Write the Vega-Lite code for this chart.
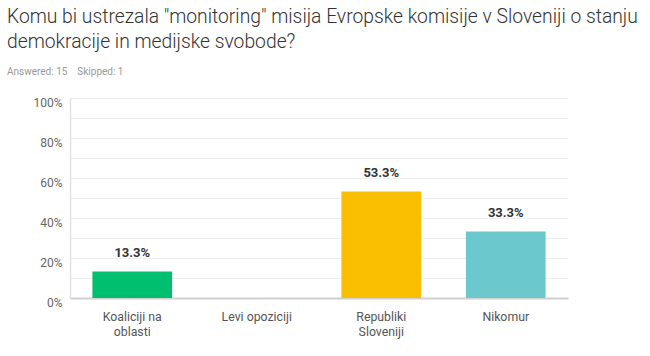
{
  "$schema": "https://vega.github.io/schema/vega-lite/v6.json",
  "width": 498,
  "height": 200,
  "autosize": {"type": "none"},
  "padding": {"left": 70, "top": 98, "right": 82, "bottom": 58},
  "background": "white",
  "title": {
    "text": ["Komu bi ustrezala \"monitoring\" misija Evropske komisije v Sloveniji o stanju", "demokracije in medijske svobode?"],
    "subtitle": "Answered: 15\u00a0\u00a0\u00a0\u00a0Skipped: 1",
    "anchor": "start",
    "frame": "group",
    "dx": -63,
    "offset": 19,
    "font": "Roboto",
    "fontSize": 19.3,
    "fontWeight": 300,
    "color": "#333333",
    "lineHeight": 25,
    "subtitleFont": "Roboto",
    "subtitleFontSize": 10,
    "subtitleColor": "#999999",
    "subtitlePadding": 15
  },
  "data": {
    "values": [
      {"option": "Koaliciji na oblasti", "pct": 0.133, "label": "13.3%"},
      {"option": "Levi opoziciji", "pct": 0.0, "label": ""},
      {"option": "Republiki Sloveniji", "pct": 0.533, "label": "53.3%"},
      {"option": "Nikomur", "pct": 0.333, "label": "33.3%"}
    ]
  },
  "config": {
    "view": {"stroke": null},
    "font": "Roboto"
  },
  "encoding": {
    "x": {
      "field": "option",
      "type": "nominal",
      "sort": null,
      "scale": {"paddingInner": 0.36, "paddingOuter": 0.18},
      "axis": {
        "title": null,
        "labelAngle": 0,
        "labelFontSize": 12.3,
        "labelColor": "#555555",
        "labelPadding": 12,
        "labelLineHeight": 15,
        "tickSize": 0,
        "domainColor": "#d0d0d0",
        "domainWidth": 2,
        "labelExpr": "datum.label == 'Koaliciji na oblasti' ? ['Koaliciji na','oblasti'] : datum.label == 'Republiki Sloveniji' ? ['Republiki','Sloveniji'] : datum.label"
      }
    },
    "y": {
      "field": "pct",
      "type": "quantitative",
      "scale": {"domain": [0, 1], "nice": false},
      "axis": {
        "title": null,
        "values": [0, 0.1, 0.2, 0.3, 0.4, 0.5, 0.6, 0.7, 0.8, 0.9, 1],
        "labelExpr": "round(datum.value*10) % 2 == 0 ? format(datum.value, '.0%') : ''",
        "labelFontSize": 12,
        "labelColor": "#666666",
        "labelPadding": 8,
        "labelOffset": 4,
        "tickSize": 0,
        "domainColor": "#e0e0e0",
        "domainWidth": 1.5,
        "gridColor": "#eeeeee",
        "gridWidth": 1
      }
    }
  },
  "layer": [
    {
      "mark": {"type": "bar"},
      "encoding": {
        "color": {
          "field": "option",
          "type": "nominal",
          "sort": null,
          "scale": {"range": ["#00BF6F", "#999999", "#F9BE00", "#6BC8CD"]},
          "legend": null
        }
      }
    },
    {
      "transform": [{"filter": "datum.pct > 0"}],
      "mark": {"type": "text", "dy": -18, "fontSize": 13, "fontWeight": "bold", "color": "#333333"},
      "encoding": {
        "text": {"field": "label"}
      }
    }
  ]
}
